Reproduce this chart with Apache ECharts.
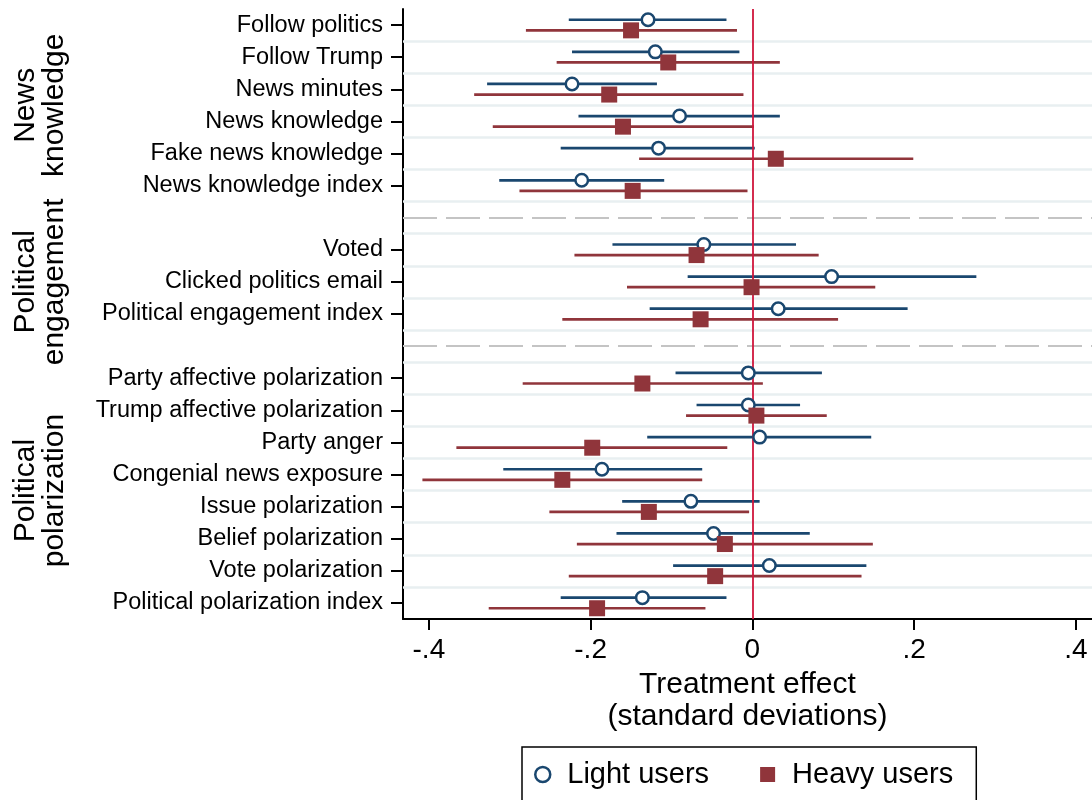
<!DOCTYPE html>
<html>
<head>
<meta charset="utf-8">
<script src="https://cdn.jsdelivr.net/npm/echarts@6/dist/echarts.min.js"></script>
<style>
  html, body { margin: 0; padding: 0; background: #fff; }
  #chart { width: 1092px; height: 800px; }
</style>
</head>
<body>
<div id="chart"></div>
<script>
// ---------------- DATA ----------------
const groupNames = ['News\nknowledge', 'Political\nengagement', 'Political\npolarization'];
const groupSizes = [6, 3, 8];
const categories = [
  'Follow politics', 'Follow Trump', 'News minutes', 'News knowledge',
  'Fake news knowledge', 'News knowledge index',
  'Voted', 'Clicked politics email', 'Political engagement index',
  'Party affective polarization', 'Trump affective polarization', 'Party anger',
  'Congenial news exposure', 'Issue polarization', 'Belief polarization',
  'Vote polarization', 'Political polarization index'
];
const lightEst = [-0.129, -0.120, -0.223, -0.090, -0.116, -0.211,
                  -0.060, 0.098, 0.032,
                  -0.005, -0.005, 0.009, -0.186, -0.076, -0.048, 0.021, -0.136];
const lightLo  = [-0.227, -0.223, -0.328, -0.215, -0.237, -0.313,
                  -0.173, -0.080, -0.127,
                  -0.095, -0.069, -0.130, -0.308, -0.161, -0.168, -0.098, -0.237];
const lightHi  = [-0.032, -0.016, -0.118, 0.034, 0.003, -0.109,
                  0.054, 0.277, 0.192,
                  0.086, 0.059, 0.147, -0.062, 0.009, 0.071, 0.141, -0.032];
const heavyEst = [-0.150, -0.104, -0.177, -0.160, 0.029, -0.148,
                  -0.069, -0.001, -0.064,
                  -0.136, 0.005, -0.198, -0.235, -0.128, -0.034, -0.046, -0.192];
const heavyLo  = [-0.280, -0.242, -0.344, -0.321, -0.140, -0.288,
                  -0.220, -0.155, -0.235,
                  -0.284, -0.082, -0.366, -0.408, -0.251, -0.217, -0.227, -0.326];
const heavyHi  = [-0.019, 0.034, -0.011, 0.002, 0.199, -0.006,
                  0.082, 0.152, 0.106,
                  0.013, 0.092, -0.031, -0.062, -0.004, 0.149, 0.135, -0.058];
const xTicks = [-0.4, -0.2, 0, 0.2, 0.4];
const seriesNames = ['Light users', 'Heavy users'];

// ---------------- LAYOUT HELPERS ----------------
const FONT = '"Liberation Sans", Arial, Helvetica, sans-serif';
const BLUE = '#1a476f';
const RED = '#90353b';
const rows = [];        // slot position of each category
const gaps = [];        // slot position of gap rows (dashed lines)
const groupCenters = [];
let slot = 0;
groupSizes.forEach((n, g) => {
  const first = slot;
  for (let i = 0; i < n; i++) rows.push(slot++);
  groupCenters.push((first + slot - 1) / 2);
  if (g < groupSizes.length - 1) gaps.push(slot++);
});
const nSlots = slot;
const OFF = 0.165;
const labelOf = {};
rows.forEach((r, i) => { labelOf[r] = categories[i]; });

const separators = [];
for (let s = 0; s < nSlots - 1; s++) separators.push({ yAxis: s + 0.5 });

function ciSeries(name, lo, hi, off, color) {
  return {
    name: name + ' CI',
    type: 'custom',
    z: 3,
    data: rows.map((r, i) => [lo[i], hi[i], r + off]),
    encode: { x: [0, 1], y: 2 },
    renderItem: function (params, api) {
      const p1 = api.coord([api.value(0), api.value(2)]);
      const p2 = api.coord([api.value(1), api.value(2)]);
      return {
        type: 'line',
        shape: { x1: p1[0], y1: p1[1], x2: p2[0], y2: p2[1] },
        style: { stroke: color, lineWidth: 2.7 }
      };
    },
    silent: true
  };
}

const chart = echarts.init(document.getElementById('chart'), null, { renderer: 'canvas' });

const option = {
  animation: false,
  backgroundColor: '#ffffff',
  textStyle: { fontFamily: FONT },
  grid: { left: 403, right: 0, top: 9, bottom: 181, containLabel: false },
  xAxis: {
    type: 'value',
    min: -0.432,
    max: 0.42,
    axisLine: { show: true, onZero: false, lineStyle: { color: '#000', width: 2 } },
    axisTick: { show: true, customValues: xTicks, length: 11, lineStyle: { color: '#000', width: 2 } },
    axisLabel: {
      customValues: xTicks,
      margin: 17,
      color: '#000',
      fontSize: 28,
      fontFamily: FONT,
      formatter: function (v) {
        if (Math.abs(v) < 1e-9) return '0';
        return (v < 0 ? '-' : '') + String(Math.abs(v)).replace(/^0/, '');
      }
    },
    splitLine: { show: false },
    name: 'Treatment effect\n(standard deviations)',
    nameLocation: 'middle',
    nameGap: 46,
    nameTextStyle: { color: '#000', fontSize: 30, lineHeight: 32, fontFamily: FONT }
  },
  yAxis: {
    type: 'value',
    inverse: true,
    min: -0.5,
    max: nSlots - 0.5,
    axisLine: { show: true, onZero: false, lineStyle: { color: '#000', width: 2 } },
    axisTick: { show: true, customValues: rows, length: 12, lineStyle: { color: '#000', width: 2 } },
    axisLabel: {
      customValues: rows,
      margin: 20,
      color: '#000',
      fontSize: 23.5,
      fontFamily: FONT,
      formatter: function (v) { return labelOf[Math.round(v)] || ''; }
    },
    splitLine: { show: false }
  },
  legend: {
    left: 522,
    top: 747,
    orient: 'horizontal',
    padding: [13, 23, 40, 12],
    itemGap: 51,
    itemWidth: 15,
    itemHeight: 15,
    borderColor: '#000',
    borderWidth: 1.5,
    textStyle: { color: '#000', fontSize: 29, fontFamily: FONT, padding: [0, 0, 0, 12] },
    data: [
      { name: seriesNames[0], icon: 'circle', itemStyle: { color: '#fff', borderColor: BLUE, borderWidth: 2.5 } },
      { name: seriesNames[1], icon: 'rect', itemStyle: { color: RED, borderWidth: 0 } }
    ]
  },
  series: [
    {
      name: 'separators',
      type: 'line',
      data: [],
      z: 1,
      silent: true,
      markLine: {
        silent: true,
        symbol: 'none',
        label: { show: false },
        lineStyle: { color: '#e8eff1', width: 2.5, type: 'solid' },
        data: separators,
        animation: false
      }
    },
    {
      name: 'gaps',
      type: 'line',
      data: [],
      z: 1,
      silent: true,
      markLine: {
        silent: true,
        symbol: 'none',
        label: { show: false },
        lineStyle: { color: '#c4c4c4', width: 2, type: [34, 9] },
        data: gaps.map(g => ({ yAxis: g })),
        animation: false
      }
    },
    {
      name: 'zero',
      type: 'line',
      data: [],
      z: 2,
      silent: true,
      markLine: {
        silent: true,
        symbol: 'none',
        label: { show: false },
        lineStyle: { color: '#d0163c', width: 1.8, type: 'solid' },
        data: [{ xAxis: 0 }],
        animation: false
      }
    },
    ciSeries(seriesNames[0], lightLo, lightHi, -OFF, BLUE),
    ciSeries(seriesNames[1], heavyLo, heavyHi, OFF, RED),
    {
      name: seriesNames[0],
      type: 'scatter',
      z: 5,
      symbol: 'circle',
      symbolSize: 12.5,
      itemStyle: { color: '#fff', borderColor: BLUE, borderWidth: 2.5, opacity: 1 },
      data: rows.map((r, i) => [lightEst[i], r - OFF])
    },
    {
      name: seriesNames[1],
      type: 'scatter',
      z: 5,
      symbol: 'rect',
      symbolSize: 16,
      itemStyle: { color: RED, opacity: 1 },
      data: rows.map((r, i) => [heavyEst[i], r + OFF])
    }
  ]
};

chart.setOption(option);

// group labels (rotated), positioned from the y axis scale
const graphics = groupNames.map((name, g) => {
  const yPix = chart.convertToPixel({ yAxisIndex: 0 }, groupCenters[g]);
  return {
    type: 'text',
    x: 40,
    y: yPix,
    rotation: Math.PI / 2,
    style: {
      text: name,
      fill: '#000',
      font: '30px ' + FONT,
      lineHeight: 29,
      align: 'center',
      verticalAlign: 'middle'
    }
  };
});
chart.setOption({ graphic: graphics });
</script>
</body>
</html>
